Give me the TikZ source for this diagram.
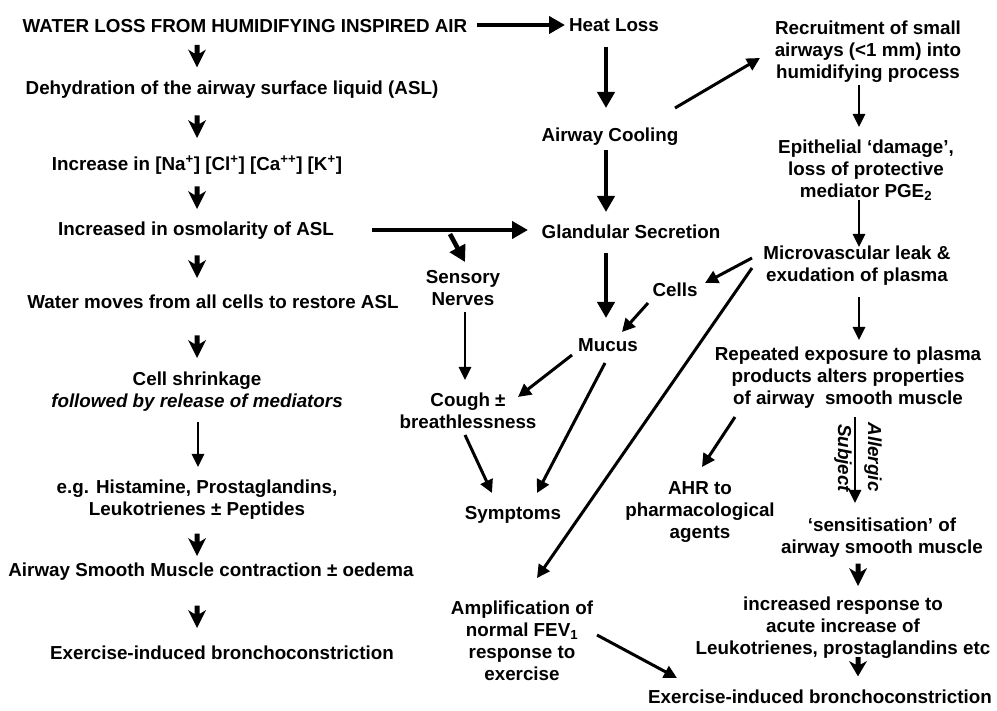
\documentclass[tikz,border=0pt]{standalone}
\usepackage{fontspec}
\setmainfont{Liberation Sans}
\usetikzlibrary{arrows.meta,calc}
\tikzset{
  chevron/.pic={
    \fill (-2.5,-11.5) -- (2.5,-11.5) -- (2.5,-3) -- (9,-7) -- (0,11) -- (-9,-7) -- (-2.5,-3) -- cycle;
  }
}
\begin{document}
\begin{tikzpicture}[x=1pt,y=-1pt,
  txt/.style={inner sep=0pt, align=center, font=\bfseries\fontsize{18.8}{22}\selectfont},
  thk/.style={line width=4.6pt, -{Triangle[length=16pt,width=17pt]}},
  mid/.style={line width=3pt, -{Triangle[length=13pt,width=13pt]}},
  thn/.style={line width=2.7pt, -{Triangle[length=13pt,width=12pt]}},
]
\fill[white] (0,0) rectangle (997,711);
\useasboundingbox (0,0) rectangle (997,711);

% left column
\node[txt] (water) at (245,26) {WATER LOSS FROM HUMIDIFYING INSPIRED AIR};
\node[txt] (dehyd) at (232,90) {Dehydration of the airway surface liquid (ASL)};
\node[txt] (incr) at (197,165) {Increase in [Na\textsuperscript{+}] [Cl\textsuperscript{+}] [Ca\textsuperscript{++}] [K\textsuperscript{+}]};
\node[txt] (osm) at (196,231) {Increased in osmolarity of ASL};
\node[txt] (wmov) at (213,302) {Water moves from all cells to restore ASL};
\node[txt] (cell) at (197,392) {Cell shrinkage\\\textit{followed by release of mediators}};
\node[txt] (hist) at (197,500) {e.g. Histamine, Prostaglandins,\\Leukotrienes ± Peptides};
\node[txt] (asm) at (211,572) {Airway Smooth Muscle contraction ± oedema};
\node[txt] (eib1) at (222,653) {Exercise-induced bronchoconstriction};

% middle column
\node[txt] (heat) at (614,25) {Heat Loss};
\node[txt] (cool) at (610,137) {Airway Cooling};
\node[txt] (gland) at (631,232) {Glandular Secretion};
\node[txt] (sens) at (463,288) {Sensory\\Nerves};
\node[txt] (cells) at (675,290) {Cells};
\node[txt] (mucus) at (608,345) {Mucus};
\node[txt] (cough) at (468,411) {Cough ±\\breathlessness};
\node[txt] (symp) at (513,515) {Symptoms};
\node[txt] (ampl) at (522,641) {Amplification of\\normal FEV\textsubscript{1}\\response to\\exercise};

% right column
\node[txt] (recr) at (868,52) {Recruitment of small\\airways (<1 mm) into\\humidifying process};
\node[txt] (epi) at (866,170) {Epithelial ‘damage’,\\loss of protective\\mediator PGE\textsubscript{2}};
\node[txt] (micro) at (857,266) {Microvascular leak \&\\exudation of plasma};
\node[txt] (rep) at (848,378) {Repeated exposure to plasma\\products alters properties\\of airway~ smooth muscle};
\node[txt] (ahr) at (700,512) {AHR to\\pharmacological\\agents};
\node[txt] (sens2) at (882,538) {‘sensitisation’ of\\airway smooth muscle};
\node[txt] (incresp) at (843,628) {increased response to\\acute increase of\\Leukotrienes, prostaglandins etc};
\node[txt] (eib2) at (820,697) {Exercise-induced bronchoconstriction};

% left chevrons
\path ($(water)+(-48,30.5)$) pic {chevron};
\path ($(dehyd)+(-35,37)$) pic {chevron};
\path ($(incr)+(0,33)$) pic {chevron};
\path ($(osm)+(1,36)$) pic {chevron};
\path ($(wmov)+(-16,45)$) pic {chevron};
\draw[thn] ($(cell)+(1,30)$) -- ($(hist)+(1,-33)$);
\path ($(hist)+(0,45)$) pic {chevron};
\path ($(asm)+(-14,45)$) pic {chevron};

% middle
\draw[thk] ($(water)+(232,-1)$) -- ($(heat)+(-49,0)$);
\draw[thk] ($(heat)+(-8,22)$) -- ($(cool)+(-4,-29)$);
\draw[thk] ($(cool)+(-4,13)$) -- ($(gland)+(-25,-20)$);
\draw[thk] ($(osm)+(176,-1)$) -- ($(gland)+(-103,-2)$);
\coordinate (br) at (450,234);
\draw[thk] (br) -- ($(sens)+(2,-26)$);
\draw[thn] ($(sens)+(2,24)$) -- ($(cough)+(-3,-31)$);
\draw[thk] ($(gland)+(-25,21)$) -- ($(mucus)+(-2,-27)$);
\draw[mid] ($(cells)+(-27,13)$) -- ($(mucus)+(14,-13)$);
\draw[mid] ($(mucus)+(-36,10)$) -- ($(cough)+(50,-14)$);
\draw[mid] ($(mucus)+(-3,18)$) -- ($(symp)+(24,-22)$);
\draw[mid] ($(cough)+(-3,24)$) -- ($(symp)+(-21,-22)$);
\draw[mid] ($(micro)+(-105,2)$) -- ($(ampl)+(15,-63)$);
\draw[mid] ($(ampl)+(75,-6)$) -- ($(eib2)+(-143,-19)$);

% right
\draw[mid] ($(cool)+(65,-29)$) -- ($(recr)+(-108,6)$);
\draw[thn] ($(recr)+(-9,33)$) -- ($(epi)+(-7,-43)$);
\draw[thn] ($(epi)+(-7,30)$) -- ($(micro)+(2,-19)$);
\draw[mid] ($(micro)+(-105,-8)$) -- ($(cells)+(30,-7)$);
\draw[thn] ($(micro)+(2,31)$) -- ($(rep)+(11,-38)$);
\draw[mid] ($(rep)+(-113,39)$) -- ($(ahr)+(2,-45)$);
\draw[thn] ($(rep)+(7,39)$) -- ($(sens2)+(-27,-35)$)
  coordinate[pos=0.5] (allm);
\node[txt, font=\bfseries\itshape\fontsize{18.8}{22}\selectfont, rotate=-90] (allg) at ($(allm)+(18,-3)$) {Allergic};
\node[txt, font=\bfseries\itshape\fontsize{18.8}{22}\selectfont, rotate=-90] (subj) at ($(allm)+(-12,-2)$) {Subject};
\path ($(sens2)+(-24,37)$) pic {chevron};
\path ($(incresp)+(15,39)$) pic[yscale=0.85] {chevron};
\end{tikzpicture}
\end{document}
